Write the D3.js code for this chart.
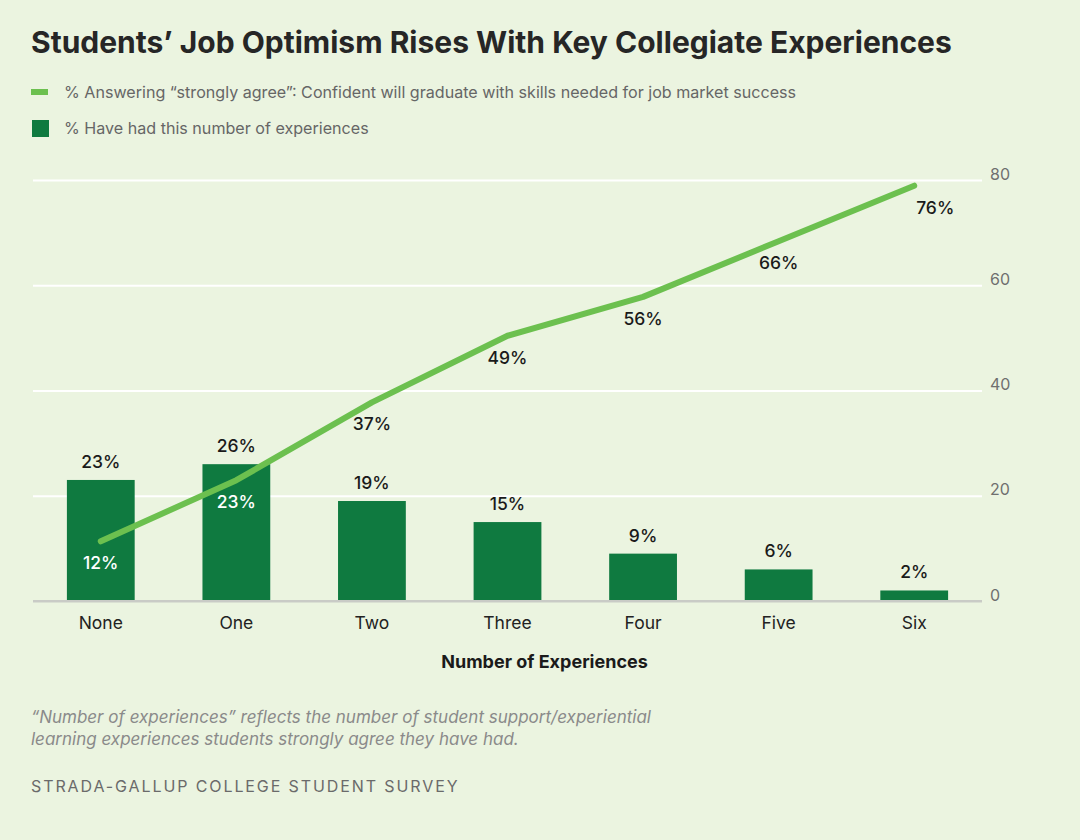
<!DOCTYPE html>
<html>
<head>
<meta charset="utf-8">
<script src="https://cdn.jsdelivr.net/npm/d3@7"></script>
<style>
  html, body { margin: 0; padding: 0; background: #ebf4e0; }
  svg { display: block; font-family: Inter, "Noto Sans", sans-serif; }
</style>
</head>
<body>
<svg id="chart" width="1080" height="840"></svg>
<script>
const categories = ["None", "One", "Two", "Three", "Four", "Five", "Six"];
const experienceShare = [23, 26, 19, 15, 9, 6, 2];
const optimismShare = [12, 23, 37, 49, 56, 66, 76];
const yTicks = [0, 20, 40, 60, 80];

const titleText = "Students\u2019 Job Optimism Rises With Key Collegiate Experiences";
const legendLine = "% Answering \u201cstrongly agree\u201d: Confident will graduate with skills needed for job market success";
const legendBar = "% Have had this number of experiences";
const xAxisTitle = "Number of Experiences";
const noteLines = ["\u201cNumber of experiences\u201d reflects the number of student support/experiential",
                   "learning experiences students strongly agree they have had."];
const sourceText = "STRADA-GALLUP COLLEGE STUDENT SURVEY";

const svg = d3.select("#chart");
const W = 1080, H = 840;
svg.append("rect").attr("width", W).attr("height", H).attr("fill", "#ebf4e0");

const plotLeft = 33, plotRight = 982, plotTop = 180, plotBottom = 601;

const x = d3.scaleBand().domain(categories).range([plotLeft, plotRight])
  .paddingInner(0.5).paddingOuter(0.25);
const y = d3.scaleLinear().domain([0, 80]).range([plotBottom, plotTop]);
// line series drawn on its own (secondary) scale, as in the original
const y2 = d3.scaleLinear().domain([0, 80]).range([608, 163.5]);

// Title
svg.append("text").attr("x", 31).attr("y", 53)
  .attr("font-size", 30).attr("font-weight", 700).attr("fill", "#262626")
  .text(titleText);

// Legend
svg.append("line").attr("x1", 31).attr("x2", 48).attr("y1", 92).attr("y2", 92)
  .attr("stroke", "#6cc04f").attr("stroke-width", 6);
svg.append("text").attr("x", 64).attr("y", 98).attr("font-size", 16.1).attr("fill", "#666")
  .text(legendLine);
svg.append("rect").attr("x", 32).attr("y", 120).attr("width", 17).attr("height", 17)
  .attr("fill", "#0f7a40");
svg.append("text").attr("x", 64).attr("y", 134).attr("font-size", 16.1).attr("fill", "#666")
  .text(legendBar);

// Gridlines + right axis labels
const yAxis = d3.axisRight(y).tickValues(yTicks).tickSize(plotRight - plotLeft).tickFormat(d3.format("d"));
const ga = svg.append("g").attr("transform", `translate(${plotLeft},0)`).call(yAxis);
ga.select(".domain").remove();
ga.selectAll(".tick line").attr("stroke", d => d === 0 ? "#c9cbc6" : "#ffffff").attr("stroke-width", 2);
ga.selectAll(".tick text").attr("x", plotRight - plotLeft + 8).attr("dy", "-0.05em")
  .attr("font-size", 16).attr("fill", "#6f6f6f").attr("font-family", "Inter, sans-serif");

// Bars
svg.append("g").selectAll("rect").data(categories).join("rect")
  .attr("x", d => x(d)).attr("width", x.bandwidth())
  .attr("y", (d, i) => y(experienceShare[i]))
  .attr("height", (d, i) => y(0) - y(experienceShare[i]))
  .attr("fill", "#0f7a40");
// redraw baseline over bars
svg.append("line").attr("x1", plotLeft).attr("x2", plotRight).attr("y1", y(0)).attr("y2", y(0))
  .attr("stroke", "#c9cbc6").attr("stroke-width", 2);

// Bar labels
svg.append("g").selectAll("text").data(categories).join("text")
  .attr("x", d => x(d) + x.bandwidth() / 2)
  .attr("y", (d, i) => y(experienceShare[i]) - 12)
  .attr("text-anchor", "middle").attr("font-size", 17.5).attr("font-weight", 500).attr("fill", "#1a1a1a")
  .text((d, i) => experienceShare[i] + "%");

// Line
const line = d3.line().x((d, i) => x(categories[i]) + x.bandwidth() / 2).y(d => y2(d));
svg.append("path").datum(optimismShare).attr("d", line)
  .attr("fill", "none").attr("stroke", "#6cc04f").attr("stroke-width", 6)
  .attr("stroke-linecap", "round").attr("stroke-linejoin", "round");

// Line labels
svg.append("g").selectAll("text").data(optimismShare).join("text")
  .attr("x", (d, i) => x(categories[i]) + x.bandwidth() / 2 + (i === optimismShare.length - 1 ? 21 : 0))
  .attr("y", (d, i) => y2(d) + 28)
  .attr("text-anchor", "middle").attr("font-size", 17.5).attr("font-weight", 500)
  .attr("fill", (d, i) => d < experienceShare[i] + 2 && y2(d) > y(experienceShare[i]) ? "#ffffff" : "#1a1a1a")
  .text(d => d + "%");

// X axis labels
svg.append("g").selectAll("text").data(categories).join("text")
  .attr("x", d => x(d) + x.bandwidth() / 2).attr("y", 629)
  .attr("text-anchor", "middle").attr("font-size", 17.5).attr("fill", "#222")
  .text(d => d);

svg.append("text").attr("x", (plotLeft + plotRight) / 2 + 37).attr("y", 668)
  .attr("text-anchor", "middle").attr("font-size", 18).attr("font-weight", 700).attr("fill", "#1a1a1a")
  .text(xAxisTitle);

// Note
svg.append("g").selectAll("text").data(noteLines).join("text")
  .attr("x", 31).attr("y", (d, i) => 723 + i * 22)
  .attr("font-size", 17).attr("font-style", "italic").attr("fill", "#8a8a8a")
  .text(d => d);

svg.append("text").attr("x", 31).attr("y", 792)
  .attr("font-size", 16).attr("letter-spacing", 1.9).attr("fill", "#6a6a6a")
  .text(sourceText);
</script>
</body>
</html>
